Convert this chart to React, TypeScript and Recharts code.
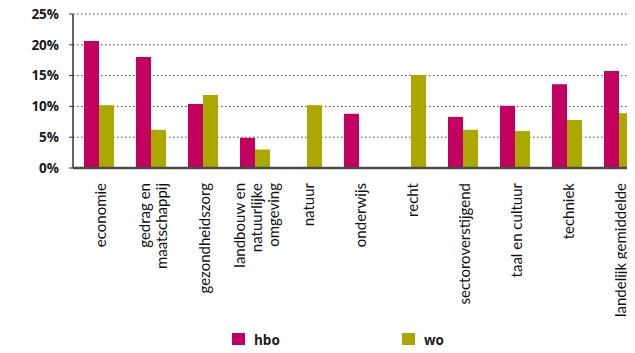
import React from "react";
import { BarChart, Bar, XAxis, YAxis, CartesianGrid, Legend } from "recharts";

const categories = [
  "economie",
  "gedrag en\nmaatschappij",
  "gezondheidszorg",
  "landbouw en\nnatuurlijke\nomgeving",
  "natuur",
  "onderwijs",
  "recht",
  "sectoroverstijgend",
  "taal en cultuur",
  "techniek",
  "landelijk gemiddelde",
];

const hbo = [20.6, 18.0, 10.4, 4.9, null, 8.8, null, 8.3, 10.1, 13.6, 15.75];
const wo = [10.2, 6.2, 11.85, 3.0, 10.2, null, 15.1, 6.2, 6.0, 7.8, 8.9];

const yTicks = [0, 5, 10, 15, 20, 25];

const HBO_COLOR = "#C3005F";
const WO_COLOR = "#ABA900";

const data = categories.map((name, i) => ({ name, hbo: hbo[i], wo: wo[i] }));

const CategoryTick = (props: any) => {
  const { x, y, payload } = props;
  const lines = String(payload.value).split("\n");
  const step = 17;
  return (
    <g>
      {lines.map((line, i) => {
        const dx = (i - (lines.length - 1) / 2) * step + 2;
        return (
          <text
            key={i}
            transform={`translate(${x + dx}, ${y + 15}) rotate(-90)`}
            textAnchor="end"
            dy="0.35em"
            fontSize={15}
            fontFamily="Lato, sans-serif"
            fill="#111"
          >
            {line}
          </text>
        );
      })}
    </g>
  );
};

const LegendBox = () => (
  <div style={{ position: "relative", height: 30, fontFamily: "'Open Sans', sans-serif" }}>
    {[
      { label: "hbo", color: HBO_COLOR, left: 232 },
      { label: "wo", color: WO_COLOR, left: 402 },
    ].map((item) => (
      <div
        key={item.label}
        style={{ position: "absolute", left: item.left, top: 10, display: "flex", alignItems: "center" }}
      >
        <span style={{ width: 13, height: 14, background: item.color, display: "inline-block" }} />
        <span style={{ marginLeft: 9, fontSize: 13.5, fontWeight: 700, color: "#1a1a1a", lineHeight: "14px" }}>
          {item.label}
        </span>
      </div>
    ))}
  </div>
);

export default function App() {
  return (
    <div style={{ margin: -8, width: 635, height: 353, overflow: "hidden", background: "#fff" }}>
      <BarChart
        width={645}
        height={353}
        data={data}
        margin={{ top: 14, right: 0, bottom: 0, left: 0 }}
        barCategoryGap={11}
        barGap={0}
        barSize={15}
      >
        <CartesianGrid vertical={false} stroke="#444" strokeDasharray="1.5 2.5" />
        <YAxis
          width={73}
          domain={[0, 25]}
          ticks={yTicks}
          interval={0}
          tickFormatter={(v) => `${v}%`}
          axisLine={{ stroke: "#333", strokeWidth: 1.5 }}
          tickLine={{ stroke: "#333" }}
          tickSize={4}
          tickMargin={10}
          tick={{ fontSize: 13.5, fontWeight: 700, fill: "#1a1a1a", fontFamily: "'Open Sans', sans-serif" }}
        />
        <XAxis
          dataKey="name"
          height={155}
          interval={0}
          tickLine={false}
          tickSize={0}
          tickMargin={0}
          axisLine={{ stroke: "#4a4a4a", strokeWidth: 2.5 }}
          tick={<CategoryTick />}
        />
        <Legend verticalAlign="bottom" content={<LegendBox />} />
        <Bar dataKey="hbo" name="hbo" fill={HBO_COLOR} isAnimationActive={false} />
        <Bar dataKey="wo" name="wo" fill={WO_COLOR} isAnimationActive={false} />
      </BarChart>
    </div>
  );
}
